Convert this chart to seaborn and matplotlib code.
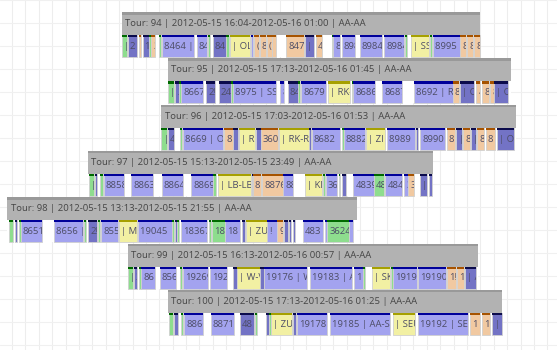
import matplotlib
matplotlib.use("Agg")
import matplotlib.pyplot as plt
from matplotlib.patches import Rectangle
import seaborn as sns

sns.set_theme(style="white")
plt.rcParams['font.family'] = ['Open Sans', 'DejaVu Sans']

# ---------------- data ----------------
tour_ids = ["94", "95", "96", "97", "98", "99", "100"]
tour_start = ["2012-05-15 16:04", "2012-05-15 17:13", "2012-05-15 17:03", "2012-05-15 15:13",
              "2012-05-15 13:13", "2012-05-15 16:13", "2012-05-15 17:13"]
tour_end = ["2012-05-16 01:00", "2012-05-16 01:45", "2012-05-16 01:53", "2012-05-15 23:49",
            "2012-05-15 21:55", "2012-05-16 00:57", "2012-05-16 01:25"]
tour_area = ["AA-AA"] * 7

# activities: (start, end) in minutes after 2012-05-15 13:00, kind, label
acts_94 = [
    (184, 192, "G", "|"), (193, 207, "S", "2"), (209, 213, "O", ""), (215, 225, "S", "1"),
    (225, 227, "G", ""), (228, 234, "O", "2"), (240, 243, "G", ""), (244, 292, "L", "8464 | E"),
    (296, 311, "L", "84"), (313, 316, "G", ""), (320, 340, "S", "84"), (340, 344, "G", ""),
    (346, 376, "Y", "| OL-"), (377, 380, "L", ""), (382, 389, "O", "("), (390, 400, "O", "8"),
    (401, 408, "O", "("), (409, 415, "O", ""), (430, 456, "O", "8471"), (458, 471, "S", "| ("),
    (474, 483, "O", "4"), (498, 500, "G", ""), (500, 510, "L", "8"), (513, 533, "L", "898"),
    (540, 573, "L", "8984"), (576, 606, "L", "8984"), (607, 610, "G", ""), (616, 643, "Y", "| SS-"),
    (645, 648, "G", ""), (649, 690, "L", "8995 | 8"), (690, 699, "O", "8"), (700, 709, "O", "8"),
    (711, 720, "O", "8"),
]
acts_95 = [
    (253, 262, "G", "|"), (264, 270, "S", "2"), (270, 273, "G", ""), (273, 305, "L", "8667"),
    (310, 323, "S", "2!"), (329, 347, "S", "24"), (347, 350, "G", ""), (350, 415, "L", "8975 | SS-T"),
    (421, 427, "L", "8"), (432, 447, "S", "84"), (447, 450, "G", ""), (452, 489, "L", "8679"),
    (492, 525, "Y", "| RK-I"), (528, 530, "G", ""), (530, 563, "L", "8686"), (573, 603, "L", "8687"),
    (621, 679, "L", "8692 | RK"), (679, 688, "O", "8"), (690, 711, "S", "| O"), (714, 720, "O", "4"),
    (723, 733, "O", "8"), (735, 741, "O", "8"), (741, 761, "S", "| O"),
]
acts_96 = [
    (243, 252, "G", "|"), (253, 262, "S", "4"), (271, 274, "G", ""), (276, 335, "L", "8669 | OL"),
    (337, 350, "O", "8"), (350, 358, "S", ""), (359, 383, "Y", "| RK"), (385, 392, "S", "|"),
    (392, 418, "O", "360"), (419, 464, "Y", "| RK-RK"), (464, 467, "S", ""), (468, 510, "L", "8682"),
    (513, 516, "G", ""), (516, 548, "L", "8882"), (549, 578, "Y", "| ZI"), (581, 622, "L", "8989 |"),
    (624, 627, "S", ""), (630, 667, "L", "8990"), (670, 682, "O", "8"), (684, 693, "S", "|"),
    (694, 705, "O", "8"), (706, 714, "S", "|"), (715, 726, "O", "8"), (728, 742, "O", "8"),
    (745, 770, "S", "| O"),
]
acts_97 = [
    (135, 142, "G", "|"), (144, 147, "S", ""), (152, 156, "G", ""), (157, 187, "L", "8858"),
    (198, 231, "L", "8863"), (244, 276, "L", "8864"), (288, 320, "L", "8869"), (320, 325, "G", ""),
    (328, 377, "Y", "| LB-LB"), (378, 380, "S", ""), (380, 392, "O", "8"), (394, 425, "O", "8876"),
    (425, 440, "L", "88"), (458, 483, "Y", "| KK-"), (484, 487, "G", ""), (489, 506, "L", "36"),
    (508, 510, "G", ""), (513, 519, "S", ""), (530, 561, "L", "4839"), (561, 576, "G", "48"),
    (578, 603, "L", "484"), (606, 612, "L", "3"), (612, 621, "O", "3"), (630, 640, "S", "|"),
    (643, 648, "S", ""),
]
acts_98 = [
    (15, 21, "G", "|"), (24, 27, "S", "2"), (30, 33, "G", ""), (33, 65, "L", "8651"),
    (83, 126, "L", "8656 |"), (128, 131, "G", ""), (134, 147, "S", "2!"), (148, 151, "G", ""),
    (153, 178, "L", "855"), (180, 207, "Y", "| MI"), (208, 259, "L", "19045 |"), (259, 262, "G", ""),
    (263, 266, "S", ""), (267, 270, "G", ""), (273, 311, "L", "18367"), (314, 317, "G", ""),
    (319, 338, "G", "18"), (338, 361, "L", "18"), (364, 368, "S", ""), (370, 401, "Y", "| ZUE"),
    (401, 416, "L", "!"), (416, 425, "O", "9"), (427, 432, "S", ""), (434, 437, "S", ""),
    (440, 443, "S", ""), (455, 485, "L", "483"), (488, 491, "L", ""), (491, 524, "G", "3624"),
    (524, 530, "L", "1"),
]
acts_99 = [
    (193, 201, "G", "|"), (202, 207, "S", "2"), (210, 213, "G", ""), (213, 234, "L", "86"),
    (241, 265, "L", "856"), (271, 274, "G", ""), (276, 313, "L", "19269"), (316, 341, "L", "192"),
    (350, 356, "S", ""), (356, 391, "Y", "| W-V"), (391, 397, "S", ""), (397, 461, "L", "19176 | W"),
    (465, 528, "L", "19183 | AA"), (531, 545, "L", "1"), (545, 548, "G", ""), (558, 585, "Y", "| SK"),
    (586, 590, "G", ""), (590, 625, "L", "19190"), (627, 669, "L", "19190"), (670, 684, "O", "1!"),
    (685, 696, "O", "1"), (697, 714, "S", "| A"),
]
acts_100 = [
    (255, 261, "G", "|"), (262, 268, "S", ""), (272, 276, "G", ""), (277, 305, "L", "8866"),
    (317, 352, "L", "8871"), (361, 382, "S", "48"), (383, 386, "G", ""), (400, 404, "S", ""),
    (404, 407, "G", ""), (407, 439, "Y", "| ZUE"), (440, 445, "S", ""), (446, 491, "L", "19178"),
    (495, 585, "L", "19185 | AA-S"), (590, 622, "Y", "| SEU"), (627, 702, "L", "19192 | SEU-"),
    (705, 720, "O", "1"), (723, 735, "O", "1"), (738, 753, "S", "|"),
]
activities = [acts_94, acts_95, acts_96, acts_97, acts_98, acts_99, acts_100]

# ---------------- style ----------------
fills = {"L": "#a3a3ef", "S": "#7373c5", "O": "#f1c9a1", "Y": "#f2f0a3", "G": "#8edd8e"}
tops = {"L": "#00009a", "S": "#0b0b4c", "O": "#a65300", "Y": "#a6a000", "G": "#006a00"}


def to_min(s):
    day = int(s[8:10]) - 15
    h, m = int(s[11:13]), int(s[14:16])
    return day * 1440 + (h - 13) * 60 + m


W, H = 557, 350
fig = plt.figure(figsize=(W / 100, H / 100), dpi=100)
ax = fig.add_axes([0, 0, 1, 1])
ax.set_xlim(1.94, 834.5)
ax.set_ylim(H, 0)
ax.axis("off")

# background grid
for gx in range(0, 840, 20):
    ax.axvline(gx, color="#ededed", lw=0.8, zorder=0)
for gy in range(0, H, 23):
    ax.axhline(gy, color="#f0f0f0", lw=0.8, zorder=0)

pitch = 46.3
for i, tid in enumerate(tour_ids):
    top = 12 + pitch * i
    t0, t1 = to_min(tour_start[i]), to_min(tour_end[i])
    acts = activities[i]
    x0 = min(t0, acts[0][0])
    x1 = max(t1, acts[-1][1])
    # header
    ax.add_patch(Rectangle((x0, top), x1 - x0, 23, facecolor="#b2b2b2", edgecolor="none", zorder=2))
    ax.add_patch(Rectangle((x0, top), x1 - x0, 2.5, facecolor="#999999", edgecolor="none", zorder=3))
    ax.text(x0 + 5, top + 11.5, f"Tour: {tid} | {tour_start[i]}-{tour_end[i]} | {tour_area[i]}",
            fontsize=6.8, color="#454545", va="center", ha="left", zorder=4)
    # activity row
    btop = top + 23
    ax.add_patch(Rectangle((x0, btop), x1 - x0, 22, facecolor="white", edgecolor="none", zorder=2))
    for (s, e, k, lab) in acts:
        r = Rectangle((s, btop), e - s, 22, facecolor=fills[k], edgecolor="#d0d0d0", lw=0.6, zorder=3)
        ax.add_patch(r)
        ax.add_patch(Rectangle((s, btop), e - s, 2.2, facecolor=tops[k], edgecolor="none", zorder=4))
        if lab:
            t = ax.text(s + 3, btop + 11.5, lab, fontsize=6.8, color="#4d4d66", va="center",
                        ha="left", zorder=5, clip_on=True)
            t.set_clip_path(r)

fig.savefig("out.png", dpi=100)
